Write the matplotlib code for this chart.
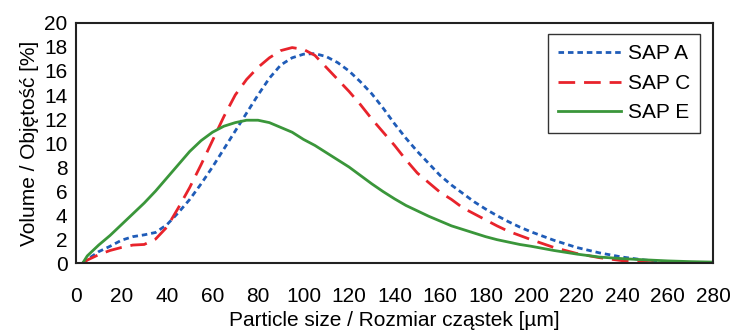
import numpy as np
import matplotlib
matplotlib.use("Agg")
import matplotlib.pyplot as plt

plt.rcParams['font.family'] = ['Liberation Sans', 'DejaVu Sans']

# particle size [um]
size = [3, 5, 10, 15, 20, 25, 30, 35, 40, 45, 50, 55, 60, 65, 70, 75, 80, 85, 90, 95,
        100, 105, 110, 115, 120, 125, 130, 135, 140, 145, 150, 155, 160, 165, 170, 175,
        180, 185, 190, 195, 200, 210, 220, 230, 240, 250, 260, 270, 280]

sap_a = [0, 0.3, 0.95, 1.4, 1.9, 2.2, 2.35, 2.55, 3.2, 4.2, 5.3, 6.6, 8.0, 9.5, 11.0,
         12.5, 14.0, 15.4, 16.5, 17.1, 17.4, 17.45, 17.2, 16.7, 16.0, 15.1, 14.1, 12.9,
         11.6, 10.4, 9.3, 8.3, 7.3, 6.5, 5.8, 5.1, 4.5, 3.95, 3.45, 3.0, 2.6, 1.9, 1.3,
         0.85, 0.5, 0.25, 0.1, 0.02, 0.0]

sap_c = [0, 0.25, 0.7, 1.05, 1.3, 1.5, 1.55, 2.0, 3.0, 4.6, 6.3, 8.2, 10.2, 12.2, 14.0,
         15.3, 16.3, 17.1, 17.7, 17.95, 17.8, 17.3, 16.3, 15.3, 14.3, 13.2, 12.0, 10.9,
         9.8, 8.6, 7.5, 6.7, 5.9, 5.3, 4.6, 4.1, 3.6, 3.1, 2.65, 2.3, 1.95, 1.3, 0.8,
         0.45, 0.2, 0.05, 0.0, 0.0, 0.0]

sap_e = [0, 0.6, 1.5, 2.3, 3.2, 4.1, 5.0, 6.0, 7.1, 8.2, 9.3, 10.2, 10.9, 11.4, 11.7,
         11.9, 11.9, 11.7, 11.3, 10.9, 10.3, 9.8, 9.2, 8.6, 8.0, 7.3, 6.6, 5.95, 5.35,
         4.8, 4.35, 3.9, 3.5, 3.1, 2.8, 2.5, 2.2, 1.95, 1.75, 1.55, 1.4, 1.05, 0.75, 0.5,
         0.37, 0.27, 0.18, 0.12, 0.08]

fig = plt.figure(figsize=(7.3, 3.33), dpi=100)
ax = fig.add_axes([0.104, 0.21, 0.873, 0.721])

ax.plot(size, sap_a, color='#1f5cb8', lw=2, linestyle=(0, (2, 1.4)), label='SAP A')
ax.plot(size, sap_c, color='#e8232b', lw=2, linestyle=(0, (6, 3.2)), label='SAP C')
ax.plot(size, sap_e, color='#3a963a', lw=2, label='SAP E')

ax.set_xlim(0, 280)
ax.set_ylim(0, 20)
ax.set_xticks(range(0, 281, 20))
ax.set_yticks(range(0, 21, 2))
ax.tick_params(length=0, labelsize=15)
ax.tick_params(axis='x', pad=17)
ax.tick_params(axis='y', pad=6)
ax.set_xlabel('Particle size / Rozmiar cząstek [µm]', fontsize=15, labelpad=4)
ax.set_ylabel('Volume / Objętość [%]', fontsize=15, labelpad=4)
for s in ax.spines.values():
    s.set_linewidth(1.5)
    s.set_color('#222222')

leg = ax.legend(loc='upper right', bbox_to_anchor=(0.98, 0.954), borderaxespad=0,
                fontsize=15, fancybox=False, edgecolor='#333333', framealpha=1,
                handlelength=3.0, handletextpad=0.35, borderpad=0.5, labelspacing=0.5)
leg.get_frame().set_linewidth(1)

fig.savefig('out.png', dpi=100)
